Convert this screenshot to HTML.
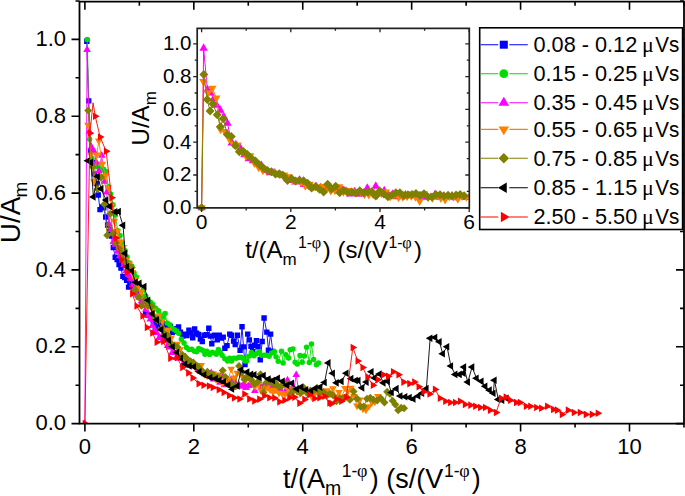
<!DOCTYPE html>
<html><head><meta charset="utf-8"><style>
html,body{margin:0;padding:0;background:#fff;width:685px;height:496px;overflow:hidden}
svg{display:block}
</style></head><body>
<svg width="685" height="496" viewBox="0 0 685 496">
<rect width="685" height="496" fill="#fff"/>
<path d="M84.90 423.6 v8 M84.90 1.7 v8 M139.36 423.6 v4 M139.36 1.7 v4 M193.82 423.6 v8 M193.82 1.7 v8 M248.28 423.6 v4 M248.28 1.7 v4 M302.74 423.6 v8 M302.74 1.7 v8 M357.20 423.6 v4 M357.20 1.7 v4 M411.66 423.6 v8 M411.66 1.7 v8 M466.12 423.6 v4 M466.12 1.7 v4 M520.58 423.6 v8 M520.58 1.7 v8 M575.04 423.6 v4 M575.04 1.7 v4 M629.50 423.6 v8 M629.50 1.7 v8 M683.96 423.6 v4 M683.96 1.7 v4 M79.5 423.60 h-8 M684.0 423.60 h-8 M79.5 385.18 h-4 M684.0 385.18 h-4 M79.5 346.76 h-8 M684.0 346.76 h-8 M79.5 308.34 h-4 M684.0 308.34 h-4 M79.5 269.92 h-8 M684.0 269.92 h-8 M79.5 231.50 h-4 M684.0 231.50 h-4 M79.5 193.08 h-8 M684.0 193.08 h-8 M79.5 154.66 h-4 M684.0 154.66 h-4 M79.5 116.24 h-8 M684.0 116.24 h-8 M79.5 77.82 h-4 M684.0 77.82 h-4 M79.5 39.40 h-8 M684.0 39.40 h-8 M79.5 0.98 h-4 M684.0 0.98 h-4" stroke="#000" stroke-width="1.6" fill="none"/>
<text x="66.00" y="430.30" font-size="22" font-family="&quot;Liberation Sans&quot;, sans-serif" text-anchor="end">0.0</text>
<text x="66.00" y="353.46" font-size="22" font-family="&quot;Liberation Sans&quot;, sans-serif" text-anchor="end">0.2</text>
<text x="66.00" y="276.62" font-size="22" font-family="&quot;Liberation Sans&quot;, sans-serif" text-anchor="end">0.4</text>
<text x="66.00" y="199.78" font-size="22" font-family="&quot;Liberation Sans&quot;, sans-serif" text-anchor="end">0.6</text>
<text x="66.00" y="122.94" font-size="22" font-family="&quot;Liberation Sans&quot;, sans-serif" text-anchor="end">0.8</text>
<text x="66.00" y="46.10" font-size="22" font-family="&quot;Liberation Sans&quot;, sans-serif" text-anchor="end">1.0</text>
<text x="84.90" y="454.20" font-size="22" font-family="&quot;Liberation Sans&quot;, sans-serif" text-anchor="middle">0</text>
<text x="193.82" y="454.20" font-size="22" font-family="&quot;Liberation Sans&quot;, sans-serif" text-anchor="middle">2</text>
<text x="302.74" y="454.20" font-size="22" font-family="&quot;Liberation Sans&quot;, sans-serif" text-anchor="middle">4</text>
<text x="411.66" y="454.20" font-size="22" font-family="&quot;Liberation Sans&quot;, sans-serif" text-anchor="middle">6</text>
<text x="520.58" y="454.20" font-size="22" font-family="&quot;Liberation Sans&quot;, sans-serif" text-anchor="middle">8</text>
<text x="629.50" y="454.20" font-size="22" font-family="&quot;Liberation Sans&quot;, sans-serif" text-anchor="middle">10</text>
<text x="283.00" y="487.50" font-size="27" font-family="&quot;Liberation Sans&quot;, sans-serif" >t/(A</text>
<text x="324.90" y="494.70" font-size="19.5" font-family="&quot;Liberation Sans&quot;, sans-serif" >m</text>
<text x="341.70" y="477.00" font-size="17.5" font-family="&quot;Liberation Sans&quot;, sans-serif" >1-</text>
<text x="357.0" y="477.0" font-size="18" font-family="&quot;Liberation Serif&quot;, serif">φ</text>
<text x="369.70" y="487.50" font-size="27" font-family="&quot;Liberation Sans&quot;, sans-serif" >) (s/(V</text>
<text x="444.10" y="476.80" font-size="17.5" font-family="&quot;Liberation Sans&quot;, sans-serif" >1-</text>
<text x="459.3" y="476.8" font-size="18" font-family="&quot;Liberation Serif&quot;, serif">φ</text>
<text x="471.70" y="487.50" font-size="27" font-family="&quot;Liberation Sans&quot;, sans-serif" >)</text>
<text transform="translate(19.6,243.2) rotate(-90)" font-size="28" font-family="&quot;Liberation Sans&quot;, sans-serif">U/A</text>
<text transform="translate(26.8,197.5) rotate(-90)" font-size="19" font-family="&quot;Liberation Sans&quot;, sans-serif">m</text>
<clipPath id="mc"><rect x="79.5" y="1.7" width="604.5" height="421.90000000000003"/></clipPath><g clip-path="url(#mc)"><path d="M86.81 41.32 L88.71 100.87 L90.62 150.82 L92.52 162.34 L94.43 173.87 L96.34 183.48 L98.24 195.00 L99.99 209.60 L101.89 206.95 L103.80 207.72 L105.70 217.02 L107.61 224.93 L109.52 231.46 L111.42 236.07 L113.33 247.60 L115.23 257.28 L117.14 259.47 L119.05 264.54 L120.95 268.08 L122.86 276.41 L124.76 277.49 L126.67 280.37 L128.58 287.17 L130.48 283.25 L132.39 286.25 L134.30 282.33 L136.20 291.74 L138.11 295.51 L140.01 294.51 L141.92 302.04 L143.83 304.23 L145.73 312.49 L147.64 315.03 L149.54 315.60 L151.45 318.21 L153.36 321.59 L155.26 326.97 L157.17 323.40 L159.07 325.09 L160.98 323.67 L162.89 325.78 L164.79 323.67 L166.70 327.74 L168.61 327.43 L170.51 326.47 L172.42 332.35 L174.70 331.39 L176.61 328.66 L178.52 326.86 L180.42 332.16 L182.76 336.04 L185.11 334.08 L187.01 335.46 L188.92 330.24 L190.82 332.62 L192.73 337.92 L194.64 328.97 L196.54 333.31 L198.45 334.54 L200.36 339.08 L202.26 341.46 L204.17 335.23 L206.48 334.58 L208.80 328.32 L210.29 336.08 L211.79 343.69 L214.51 335.23 L217.24 339.84 L219.24 335.23 L221.23 337.96 L223.23 337.16 L224.86 348.30 L227.04 345.61 L229.76 334.08 L231.40 335.23 L233.58 341.00 L235.21 344.45 L237.39 335.23 L240.11 350.22 L242.02 326.78 L243.51 346.88 L245.01 364.43 L247.74 334.08 L249.37 339.84 L251.00 346.34 L252.64 351.37 L254.54 345.22 L256.45 340.61 L258.08 346.76 L260.26 359.82 L262.17 341.57 L264.07 317.95 L266.80 332.16 L268.43 350.22 L270.61 334.08 L272.79 351.37" stroke="#0000ff" stroke-width="0.9" fill="none" stroke-linejoin="round"/><path d="M84.11 38.62h5.40v5.40h-5.40ZM86.01 98.17h5.40v5.40h-5.40ZM87.92 148.12h5.40v5.40h-5.40ZM89.82 159.64h5.40v5.40h-5.40ZM91.73 171.17h5.40v5.40h-5.40ZM93.64 180.78h5.40v5.40h-5.40ZM95.54 192.30h5.40v5.40h-5.40ZM97.29 206.90h5.40v5.40h-5.40ZM99.19 204.25h5.40v5.40h-5.40ZM101.10 205.02h5.40v5.40h-5.40ZM103.00 214.32h5.40v5.40h-5.40ZM104.91 222.23h5.40v5.40h-5.40ZM106.82 228.76h5.40v5.40h-5.40ZM108.72 233.37h5.40v5.40h-5.40ZM110.63 244.90h5.40v5.40h-5.40ZM112.53 254.58h5.40v5.40h-5.40ZM114.44 256.77h5.40v5.40h-5.40ZM116.35 261.84h5.40v5.40h-5.40ZM118.25 265.38h5.40v5.40h-5.40ZM120.16 273.71h5.40v5.40h-5.40ZM122.06 274.79h5.40v5.40h-5.40ZM123.97 277.67h5.40v5.40h-5.40ZM125.88 284.47h5.40v5.40h-5.40ZM127.78 280.55h5.40v5.40h-5.40ZM129.69 283.55h5.40v5.40h-5.40ZM131.60 279.63h5.40v5.40h-5.40ZM133.50 289.04h5.40v5.40h-5.40ZM135.41 292.81h5.40v5.40h-5.40ZM137.31 291.81h5.40v5.40h-5.40ZM139.22 299.34h5.40v5.40h-5.40ZM141.13 301.53h5.40v5.40h-5.40ZM143.03 309.79h5.40v5.40h-5.40ZM144.94 312.33h5.40v5.40h-5.40ZM146.84 312.90h5.40v5.40h-5.40ZM148.75 315.51h5.40v5.40h-5.40ZM150.66 318.89h5.40v5.40h-5.40ZM152.56 324.27h5.40v5.40h-5.40ZM154.47 320.70h5.40v5.40h-5.40ZM156.37 322.39h5.40v5.40h-5.40ZM158.28 320.97h5.40v5.40h-5.40ZM160.19 323.08h5.40v5.40h-5.40ZM162.09 320.97h5.40v5.40h-5.40ZM164.00 325.04h5.40v5.40h-5.40ZM165.91 324.73h5.40v5.40h-5.40ZM167.81 323.77h5.40v5.40h-5.40ZM169.72 329.65h5.40v5.40h-5.40ZM172.00 328.69h5.40v5.40h-5.40ZM173.91 325.96h5.40v5.40h-5.40ZM175.82 324.16h5.40v5.40h-5.40ZM177.72 329.46h5.40v5.40h-5.40ZM180.06 333.34h5.40v5.40h-5.40ZM182.41 331.38h5.40v5.40h-5.40ZM184.31 332.76h5.40v5.40h-5.40ZM186.22 327.54h5.40v5.40h-5.40ZM188.12 329.92h5.40v5.40h-5.40ZM190.03 335.22h5.40v5.40h-5.40ZM191.94 326.27h5.40v5.40h-5.40ZM193.84 330.61h5.40v5.40h-5.40ZM195.75 331.84h5.40v5.40h-5.40ZM197.66 336.38h5.40v5.40h-5.40ZM199.56 338.76h5.40v5.40h-5.40ZM201.47 332.53h5.40v5.40h-5.40ZM203.78 331.88h5.40v5.40h-5.40ZM206.10 325.62h5.40v5.40h-5.40ZM207.59 333.38h5.40v5.40h-5.40ZM209.09 340.99h5.40v5.40h-5.40ZM211.81 332.53h5.40v5.40h-5.40ZM214.54 337.14h5.40v5.40h-5.40ZM216.54 332.53h5.40v5.40h-5.40ZM218.53 335.26h5.40v5.40h-5.40ZM220.53 334.46h5.40v5.40h-5.40ZM222.16 345.60h5.40v5.40h-5.40ZM224.34 342.91h5.40v5.40h-5.40ZM227.06 331.38h5.40v5.40h-5.40ZM228.70 332.53h5.40v5.40h-5.40ZM230.88 338.30h5.40v5.40h-5.40ZM232.51 341.75h5.40v5.40h-5.40ZM234.69 332.53h5.40v5.40h-5.40ZM237.41 347.52h5.40v5.40h-5.40ZM239.32 324.08h5.40v5.40h-5.40ZM240.81 344.18h5.40v5.40h-5.40ZM242.31 361.73h5.40v5.40h-5.40ZM245.04 331.38h5.40v5.40h-5.40ZM246.67 337.14h5.40v5.40h-5.40ZM248.30 343.64h5.40v5.40h-5.40ZM249.94 348.67h5.40v5.40h-5.40ZM251.84 342.52h5.40v5.40h-5.40ZM253.75 337.91h5.40v5.40h-5.40ZM255.38 344.06h5.40v5.40h-5.40ZM257.56 357.12h5.40v5.40h-5.40ZM259.47 338.87h5.40v5.40h-5.40ZM261.37 315.25h5.40v5.40h-5.40ZM264.10 329.46h5.40v5.40h-5.40ZM265.73 347.52h5.40v5.40h-5.40ZM267.91 331.38h5.40v5.40h-5.40ZM270.09 348.67h5.40v5.40h-5.40Z" fill="#0000ff"/><path d="M87.24 39.40 L89.58 139.29 L91.93 158.50 L94.27 164.26 L96.61 166.19 L98.95 168.11 L101.29 170.03 L103.63 169.26 L105.98 171.60 L108.32 186.63 L110.66 194.08 L113.00 204.80 L115.34 215.02 L117.68 230.65 L120.03 235.61 L122.37 243.06 L124.71 250.52 L127.05 256.93 L129.39 262.70 L131.74 266.12 L134.08 273.07 L136.42 277.03 L138.76 285.75 L141.10 294.93 L143.44 289.63 L145.79 296.08 L148.13 300.50 L150.47 302.31 L152.81 304.46 L155.70 308.34 L158.42 310.76 L161.14 315.26 L163.14 318.10 L165.14 313.49 L167.13 322.94 L169.86 324.78 L172.58 328.70 L174.58 329.86 L176.57 330.89 L178.57 333.31 L181.29 339.15 L184.02 342.92 L186.47 347.61 L188.92 349.45 L191.64 349.33 L194.36 351.37 L196.54 351.64 L198.72 348.45 L200.90 349.45 L202.90 350.53 L204.89 354.33 L206.89 351.37 L209.61 354.41 L212.34 352.14 L214.34 352.98 L216.33 354.37 L218.33 349.45 L220.23 352.48 L222.14 355.21 L224.86 358.67 L227.59 360.98 L229.58 358.21 L231.58 360.94 L233.58 358.29 L236.30 358.17 L239.02 357.13 L241.02 357.25 L243.01 358.21 L245.01 360.98 L246.92 360.74 L248.82 356.37 L251.37 352.41 L253.91 355.83 L256.45 353.68 L258.99 351.79 L261.53 355.29 L264.07 355.21 L266.62 355.29 L269.15 356.17 L271.70 352.91 L274.42 351.75 L276.05 356.75 L278.23 361.36 L281.50 351.37 L283.13 362.90 L285.86 354.83 L288.58 357.90 L290.21 349.83 L292.94 349.07 L295.12 362.13 L297.29 364.05 L300.02 355.60 L302.20 362.13 L304.37 355.98 L306.55 347.14 L309.28 362.51 L311.45 344.07 L313.63 359.44 L316.36 364.82 L318.53 362.90" stroke="#00dd00" stroke-width="0.9" fill="none" stroke-linejoin="round"/><path d="M84.49 39.40a2.75 2.75 0 1 0 5.50 0a2.75 2.75 0 1 0 -5.50 0ZM86.83 139.29a2.75 2.75 0 1 0 5.50 0a2.75 2.75 0 1 0 -5.50 0ZM89.18 158.50a2.75 2.75 0 1 0 5.50 0a2.75 2.75 0 1 0 -5.50 0ZM91.52 164.26a2.75 2.75 0 1 0 5.50 0a2.75 2.75 0 1 0 -5.50 0ZM93.86 166.19a2.75 2.75 0 1 0 5.50 0a2.75 2.75 0 1 0 -5.50 0ZM96.20 168.11a2.75 2.75 0 1 0 5.50 0a2.75 2.75 0 1 0 -5.50 0ZM98.54 170.03a2.75 2.75 0 1 0 5.50 0a2.75 2.75 0 1 0 -5.50 0ZM100.88 169.26a2.75 2.75 0 1 0 5.50 0a2.75 2.75 0 1 0 -5.50 0ZM103.23 171.60a2.75 2.75 0 1 0 5.50 0a2.75 2.75 0 1 0 -5.50 0ZM105.57 186.63a2.75 2.75 0 1 0 5.50 0a2.75 2.75 0 1 0 -5.50 0ZM107.91 194.08a2.75 2.75 0 1 0 5.50 0a2.75 2.75 0 1 0 -5.50 0ZM110.25 204.80a2.75 2.75 0 1 0 5.50 0a2.75 2.75 0 1 0 -5.50 0ZM112.59 215.02a2.75 2.75 0 1 0 5.50 0a2.75 2.75 0 1 0 -5.50 0ZM114.93 230.65a2.75 2.75 0 1 0 5.50 0a2.75 2.75 0 1 0 -5.50 0ZM117.28 235.61a2.75 2.75 0 1 0 5.50 0a2.75 2.75 0 1 0 -5.50 0ZM119.62 243.06a2.75 2.75 0 1 0 5.50 0a2.75 2.75 0 1 0 -5.50 0ZM121.96 250.52a2.75 2.75 0 1 0 5.50 0a2.75 2.75 0 1 0 -5.50 0ZM124.30 256.93a2.75 2.75 0 1 0 5.50 0a2.75 2.75 0 1 0 -5.50 0ZM126.64 262.70a2.75 2.75 0 1 0 5.50 0a2.75 2.75 0 1 0 -5.50 0ZM128.99 266.12a2.75 2.75 0 1 0 5.50 0a2.75 2.75 0 1 0 -5.50 0ZM131.33 273.07a2.75 2.75 0 1 0 5.50 0a2.75 2.75 0 1 0 -5.50 0ZM133.67 277.03a2.75 2.75 0 1 0 5.50 0a2.75 2.75 0 1 0 -5.50 0ZM136.01 285.75a2.75 2.75 0 1 0 5.50 0a2.75 2.75 0 1 0 -5.50 0ZM138.35 294.93a2.75 2.75 0 1 0 5.50 0a2.75 2.75 0 1 0 -5.50 0ZM140.69 289.63a2.75 2.75 0 1 0 5.50 0a2.75 2.75 0 1 0 -5.50 0ZM143.04 296.08a2.75 2.75 0 1 0 5.50 0a2.75 2.75 0 1 0 -5.50 0ZM145.38 300.50a2.75 2.75 0 1 0 5.50 0a2.75 2.75 0 1 0 -5.50 0ZM147.72 302.31a2.75 2.75 0 1 0 5.50 0a2.75 2.75 0 1 0 -5.50 0ZM150.06 304.46a2.75 2.75 0 1 0 5.50 0a2.75 2.75 0 1 0 -5.50 0ZM152.95 308.34a2.75 2.75 0 1 0 5.50 0a2.75 2.75 0 1 0 -5.50 0ZM155.67 310.76a2.75 2.75 0 1 0 5.50 0a2.75 2.75 0 1 0 -5.50 0ZM158.39 315.26a2.75 2.75 0 1 0 5.50 0a2.75 2.75 0 1 0 -5.50 0ZM160.39 318.10a2.75 2.75 0 1 0 5.50 0a2.75 2.75 0 1 0 -5.50 0ZM162.39 313.49a2.75 2.75 0 1 0 5.50 0a2.75 2.75 0 1 0 -5.50 0ZM164.38 322.94a2.75 2.75 0 1 0 5.50 0a2.75 2.75 0 1 0 -5.50 0ZM167.11 324.78a2.75 2.75 0 1 0 5.50 0a2.75 2.75 0 1 0 -5.50 0ZM169.83 328.70a2.75 2.75 0 1 0 5.50 0a2.75 2.75 0 1 0 -5.50 0ZM171.83 329.86a2.75 2.75 0 1 0 5.50 0a2.75 2.75 0 1 0 -5.50 0ZM173.82 330.89a2.75 2.75 0 1 0 5.50 0a2.75 2.75 0 1 0 -5.50 0ZM175.82 333.31a2.75 2.75 0 1 0 5.50 0a2.75 2.75 0 1 0 -5.50 0ZM178.54 339.15a2.75 2.75 0 1 0 5.50 0a2.75 2.75 0 1 0 -5.50 0ZM181.27 342.92a2.75 2.75 0 1 0 5.50 0a2.75 2.75 0 1 0 -5.50 0ZM183.72 347.61a2.75 2.75 0 1 0 5.50 0a2.75 2.75 0 1 0 -5.50 0ZM186.17 349.45a2.75 2.75 0 1 0 5.50 0a2.75 2.75 0 1 0 -5.50 0ZM188.89 349.33a2.75 2.75 0 1 0 5.50 0a2.75 2.75 0 1 0 -5.50 0ZM191.61 351.37a2.75 2.75 0 1 0 5.50 0a2.75 2.75 0 1 0 -5.50 0ZM193.79 351.64a2.75 2.75 0 1 0 5.50 0a2.75 2.75 0 1 0 -5.50 0ZM195.97 348.45a2.75 2.75 0 1 0 5.50 0a2.75 2.75 0 1 0 -5.50 0ZM198.15 349.45a2.75 2.75 0 1 0 5.50 0a2.75 2.75 0 1 0 -5.50 0ZM200.15 350.53a2.75 2.75 0 1 0 5.50 0a2.75 2.75 0 1 0 -5.50 0ZM202.14 354.33a2.75 2.75 0 1 0 5.50 0a2.75 2.75 0 1 0 -5.50 0ZM204.14 351.37a2.75 2.75 0 1 0 5.50 0a2.75 2.75 0 1 0 -5.50 0ZM206.86 354.41a2.75 2.75 0 1 0 5.50 0a2.75 2.75 0 1 0 -5.50 0ZM209.59 352.14a2.75 2.75 0 1 0 5.50 0a2.75 2.75 0 1 0 -5.50 0ZM211.59 352.98a2.75 2.75 0 1 0 5.50 0a2.75 2.75 0 1 0 -5.50 0ZM213.58 354.37a2.75 2.75 0 1 0 5.50 0a2.75 2.75 0 1 0 -5.50 0ZM215.58 349.45a2.75 2.75 0 1 0 5.50 0a2.75 2.75 0 1 0 -5.50 0ZM217.48 352.48a2.75 2.75 0 1 0 5.50 0a2.75 2.75 0 1 0 -5.50 0ZM219.39 355.21a2.75 2.75 0 1 0 5.50 0a2.75 2.75 0 1 0 -5.50 0ZM222.11 358.67a2.75 2.75 0 1 0 5.50 0a2.75 2.75 0 1 0 -5.50 0ZM224.84 360.98a2.75 2.75 0 1 0 5.50 0a2.75 2.75 0 1 0 -5.50 0ZM226.83 358.21a2.75 2.75 0 1 0 5.50 0a2.75 2.75 0 1 0 -5.50 0ZM228.83 360.94a2.75 2.75 0 1 0 5.50 0a2.75 2.75 0 1 0 -5.50 0ZM230.83 358.29a2.75 2.75 0 1 0 5.50 0a2.75 2.75 0 1 0 -5.50 0ZM233.55 358.17a2.75 2.75 0 1 0 5.50 0a2.75 2.75 0 1 0 -5.50 0ZM236.27 357.13a2.75 2.75 0 1 0 5.50 0a2.75 2.75 0 1 0 -5.50 0ZM238.27 357.25a2.75 2.75 0 1 0 5.50 0a2.75 2.75 0 1 0 -5.50 0ZM240.26 358.21a2.75 2.75 0 1 0 5.50 0a2.75 2.75 0 1 0 -5.50 0ZM242.26 360.98a2.75 2.75 0 1 0 5.50 0a2.75 2.75 0 1 0 -5.50 0ZM244.17 360.74a2.75 2.75 0 1 0 5.50 0a2.75 2.75 0 1 0 -5.50 0ZM246.07 356.37a2.75 2.75 0 1 0 5.50 0a2.75 2.75 0 1 0 -5.50 0ZM248.62 352.41a2.75 2.75 0 1 0 5.50 0a2.75 2.75 0 1 0 -5.50 0ZM251.16 355.83a2.75 2.75 0 1 0 5.50 0a2.75 2.75 0 1 0 -5.50 0ZM253.70 353.68a2.75 2.75 0 1 0 5.50 0a2.75 2.75 0 1 0 -5.50 0ZM256.24 351.79a2.75 2.75 0 1 0 5.50 0a2.75 2.75 0 1 0 -5.50 0ZM258.78 355.29a2.75 2.75 0 1 0 5.50 0a2.75 2.75 0 1 0 -5.50 0ZM261.32 355.21a2.75 2.75 0 1 0 5.50 0a2.75 2.75 0 1 0 -5.50 0ZM263.87 355.29a2.75 2.75 0 1 0 5.50 0a2.75 2.75 0 1 0 -5.50 0ZM266.40 356.17a2.75 2.75 0 1 0 5.50 0a2.75 2.75 0 1 0 -5.50 0ZM268.95 352.91a2.75 2.75 0 1 0 5.50 0a2.75 2.75 0 1 0 -5.50 0ZM271.67 351.75a2.75 2.75 0 1 0 5.50 0a2.75 2.75 0 1 0 -5.50 0ZM273.30 356.75a2.75 2.75 0 1 0 5.50 0a2.75 2.75 0 1 0 -5.50 0ZM275.48 361.36a2.75 2.75 0 1 0 5.50 0a2.75 2.75 0 1 0 -5.50 0ZM278.75 351.37a2.75 2.75 0 1 0 5.50 0a2.75 2.75 0 1 0 -5.50 0ZM280.38 362.90a2.75 2.75 0 1 0 5.50 0a2.75 2.75 0 1 0 -5.50 0ZM283.11 354.83a2.75 2.75 0 1 0 5.50 0a2.75 2.75 0 1 0 -5.50 0ZM285.83 357.90a2.75 2.75 0 1 0 5.50 0a2.75 2.75 0 1 0 -5.50 0ZM287.46 349.83a2.75 2.75 0 1 0 5.50 0a2.75 2.75 0 1 0 -5.50 0ZM290.19 349.07a2.75 2.75 0 1 0 5.50 0a2.75 2.75 0 1 0 -5.50 0ZM292.37 362.13a2.75 2.75 0 1 0 5.50 0a2.75 2.75 0 1 0 -5.50 0ZM294.54 364.05a2.75 2.75 0 1 0 5.50 0a2.75 2.75 0 1 0 -5.50 0ZM297.27 355.60a2.75 2.75 0 1 0 5.50 0a2.75 2.75 0 1 0 -5.50 0ZM299.45 362.13a2.75 2.75 0 1 0 5.50 0a2.75 2.75 0 1 0 -5.50 0ZM301.62 355.98a2.75 2.75 0 1 0 5.50 0a2.75 2.75 0 1 0 -5.50 0ZM303.80 347.14a2.75 2.75 0 1 0 5.50 0a2.75 2.75 0 1 0 -5.50 0ZM306.53 362.51a2.75 2.75 0 1 0 5.50 0a2.75 2.75 0 1 0 -5.50 0ZM308.70 344.07a2.75 2.75 0 1 0 5.50 0a2.75 2.75 0 1 0 -5.50 0ZM310.88 359.44a2.75 2.75 0 1 0 5.50 0a2.75 2.75 0 1 0 -5.50 0ZM313.61 364.82a2.75 2.75 0 1 0 5.50 0a2.75 2.75 0 1 0 -5.50 0ZM315.78 362.90a2.75 2.75 0 1 0 5.50 0a2.75 2.75 0 1 0 -5.50 0Z" fill="#00dd00"/><path d="M84.90 423.60 L87.08 49.77 L89.26 131.61 L91.44 146.98 L93.99 151.20 L96.34 162.34 L98.79 171.18 L101.78 155.43 L104.51 181.55 L106.68 192.31 L108.86 224.01 L111.04 229.77 L113.22 241.99 L115.40 244.52 L117.58 251.44 L119.75 255.97 L121.93 256.32 L124.11 264.73 L126.29 270.69 L128.47 274.80 L130.65 278.49 L132.82 284.75 L135.00 287.59 L137.18 294.62 L139.36 297.51 L141.54 300.96 L143.72 306.00 L145.90 309.65 L148.07 315.49 L150.25 319.25 L152.43 325.51 L154.61 330.01 L156.79 332.70 L158.97 337.88 L161.14 337.65 L163.32 339.19 L165.50 340.38 L167.68 345.76 L169.86 347.30 L172.04 352.79 L174.21 352.29 L176.39 357.82 L178.57 358.55 L180.75 355.90 L182.93 364.43 L185.11 359.94 L187.28 362.13 L189.46 364.66 L191.64 364.43 L193.82 365.59 L196.00 365.89 L198.18 369.62 L200.36 371.43 L202.53 372.35 L204.71 374.00 L206.89 373.12 L209.07 375.46 L211.25 372.85 L213.43 379.38 L215.60 378.84 L217.78 379.49 L219.96 382.61 L222.14 375.84 L224.32 385.03 L226.50 381.88 L228.67 383.26 L230.85 379.99 L233.03 387.75 L235.21 382.49 L237.39 386.60 L239.57 385.49 L241.74 386.49 L243.92 384.10 L246.10 387.68 L248.28 385.83 L250.46 385.22 L252.64 382.53 L254.82 390.87 L256.99 383.53 L259.17 384.80 L261.35 387.75 L263.53 386.41 L265.71 388.10 L267.89 384.22 L270.06 387.18 L272.24 388.18 L274.42 388.41 L276.60 388.52 L278.78 388.68 L280.96 390.21 L283.13 384.80 L285.31 392.60 L287.49 380.19 L289.67 389.25 L291.85 389.29 L294.03 388.29 L296.20 374.81 L298.38 389.29" stroke="#ff00ff" stroke-width="0.9" fill="none" stroke-linejoin="round"/><path d="M84.90 419.19L88.70 425.80L81.10 425.80ZM87.08 45.37L90.88 51.98L83.28 51.98ZM89.26 127.20L93.06 133.81L85.46 133.81ZM91.44 142.57L95.24 149.18L87.64 149.18ZM93.99 146.79L97.79 153.41L90.19 153.41ZM96.34 157.94L100.14 164.55L92.54 164.55ZM98.79 166.77L102.59 173.38L94.99 173.38ZM101.78 151.02L105.58 157.63L97.98 157.63ZM104.51 177.15L108.31 183.76L100.71 183.76ZM106.68 187.90L110.48 194.52L102.88 194.52ZM108.86 219.60L112.66 226.21L105.06 226.21ZM111.04 225.36L114.84 231.98L107.24 231.98ZM113.22 237.58L117.02 244.19L109.42 244.19ZM115.40 240.12L119.20 246.73L111.60 246.73ZM117.58 247.03L121.38 253.64L113.78 253.64ZM119.75 251.57L123.55 258.18L115.95 258.18ZM121.93 251.91L125.73 258.52L118.13 258.52ZM124.11 260.33L127.91 266.94L120.31 266.94ZM126.29 266.28L130.09 272.89L122.49 272.89ZM128.47 270.39L132.27 277.00L124.67 277.00ZM130.65 274.08L134.45 280.69L126.85 280.69ZM132.82 280.34L136.62 286.95L129.02 286.95ZM135.00 283.19L138.80 289.80L131.20 289.80ZM137.18 290.22L140.98 296.83L133.38 296.83ZM139.36 293.10L143.16 299.71L135.56 299.71ZM141.54 296.56L145.34 303.17L137.74 303.17ZM143.72 301.59L147.52 308.20L139.92 308.20ZM145.90 305.24L149.70 311.85L142.10 311.85ZM148.07 311.08L151.87 317.69L144.27 317.69ZM150.25 314.84L154.05 321.46L146.45 321.46ZM152.43 321.11L156.23 327.72L148.63 327.72ZM154.61 325.60L158.41 332.21L150.81 332.21ZM156.79 328.29L160.59 334.90L152.99 334.90ZM158.97 333.48L162.77 340.09L155.17 340.09ZM161.14 333.25L164.94 339.86L157.34 339.86ZM163.32 334.78L167.12 341.40L159.52 341.40ZM165.50 335.97L169.30 342.59L161.70 342.59ZM167.68 341.35L171.48 347.97L163.88 347.97ZM169.86 342.89L173.66 349.50L166.06 349.50ZM172.04 348.38L175.84 355.00L168.24 355.00ZM174.21 347.88L178.01 354.50L170.41 354.50ZM176.39 353.42L180.19 360.03L172.59 360.03ZM178.57 354.15L182.37 360.76L174.77 360.76ZM180.75 351.50L184.55 358.11L176.95 358.11ZM182.93 360.03L186.73 366.64L179.13 366.64ZM185.11 355.53L188.91 362.14L181.31 362.14ZM187.28 357.72L191.08 364.33L183.48 364.33ZM189.46 360.26L193.26 366.87L185.66 366.87ZM191.64 360.03L195.44 366.64L187.84 366.64ZM193.82 361.18L197.62 367.79L190.02 367.79ZM196.00 361.49L199.80 368.10L192.20 368.10ZM198.18 365.21L201.98 371.82L194.38 371.82ZM200.36 367.02L204.16 373.63L196.56 373.63ZM202.53 367.94L206.33 374.55L198.73 374.55ZM204.71 369.59L208.51 376.20L200.91 376.20ZM206.89 368.71L210.69 375.32L203.09 375.32ZM209.07 371.05L212.87 377.66L205.27 377.66ZM211.25 368.44L215.05 375.05L207.45 375.05ZM213.43 374.97L217.23 381.58L209.63 381.58ZM215.60 374.43L219.40 381.04L211.80 381.04ZM217.78 375.09L221.58 381.70L213.98 381.70ZM219.96 378.20L223.76 384.81L216.16 384.81ZM222.14 371.44L225.94 378.05L218.34 378.05ZM224.32 380.62L228.12 387.23L220.52 387.23ZM226.50 377.47L230.30 384.08L222.70 384.08ZM228.67 378.85L232.47 385.46L224.87 385.46ZM230.85 375.59L234.65 382.20L227.05 382.20ZM233.03 383.35L236.83 389.96L229.23 389.96ZM235.21 378.08L239.01 384.69L231.41 384.69ZM237.39 382.19L241.19 388.81L233.59 388.81ZM239.57 381.08L243.37 387.69L235.77 387.69ZM241.74 382.08L245.54 388.69L237.94 388.69ZM243.92 379.70L247.72 386.31L240.12 386.31ZM246.10 383.27L249.90 389.88L242.30 389.88ZM248.28 381.43L252.08 388.04L244.48 388.04ZM250.46 380.81L254.26 387.42L246.66 387.42ZM252.64 378.12L256.44 384.73L248.84 384.73ZM254.82 386.46L258.62 393.07L251.02 393.07ZM256.99 379.12L260.79 385.73L253.19 385.73ZM259.17 380.39L262.97 387.00L255.37 387.00ZM261.35 383.35L265.15 389.96L257.55 389.96ZM263.53 382.00L267.33 388.61L259.73 388.61ZM265.71 383.69L269.51 390.30L261.91 390.30ZM267.89 379.81L271.69 386.42L264.09 386.42ZM270.06 382.77L273.86 389.38L266.26 389.38ZM272.24 383.77L276.04 390.38L268.44 390.38ZM274.42 384.00L278.22 390.61L270.62 390.61ZM276.60 384.11L280.40 390.73L272.80 390.73ZM278.78 384.27L282.58 390.88L274.98 390.88ZM280.96 385.81L284.76 392.42L277.16 392.42ZM283.13 380.39L286.93 387.00L279.33 387.00ZM285.31 388.19L289.11 394.80L281.51 394.80ZM287.49 375.78L291.29 382.39L283.69 382.39ZM289.67 384.84L293.47 391.46L285.87 391.46ZM291.85 384.88L295.65 391.49L288.05 391.49ZM294.03 383.88L297.83 390.50L290.23 390.50ZM296.20 370.40L300.00 377.01L292.40 377.01ZM298.38 384.88L302.18 391.49L294.58 391.49Z" fill="#ff00ff"/><path d="M87.90 125.08 L90.89 154.66 L93.99 181.55 L96.88 154.66 L98.79 140.83 L102.33 163.88 L105.32 176.14 L108.32 187.36 L111.31 205.57 L114.31 221.05 L117.30 231.50 L120.30 241.64 L123.29 247.10 L126.29 260.01 L129.28 263.77 L132.28 272.19 L135.28 279.37 L138.27 285.40 L141.27 292.01 L144.26 299.12 L147.26 306.57 L150.25 306.00 L153.25 310.72 L156.24 318.41 L159.24 315.33 L162.23 321.25 L165.23 330.28 L168.22 329.82 L171.22 337.77 L174.21 346.26 L177.21 343.99 L180.21 349.45 L183.20 356.06 L186.20 359.59 L189.19 362.63 L192.19 363.78 L195.18 367.28 L198.18 367.93 L201.17 365.20 L204.17 374.31 L207.16 375.81 L210.16 375.65 L213.15 373.42 L216.15 379.53 L219.14 374.65 L222.14 382.87 L225.13 382.95 L228.13 379.72 L231.13 369.04 L234.12 377.61 L237.12 372.92 L240.11 373.69 L243.11 377.23 L246.10 379.42 L249.10 377.38 L252.09 382.22 L255.09 386.22 L258.08 384.33 L261.08 390.60 L264.07 388.29 L267.07 387.52 L270.06 389.87 L273.06 391.98 L276.05 390.06 L279.05 393.02 L282.05 393.44 L285.04 394.71 L288.04 388.60 L291.03 393.75 L294.03 389.33 L297.02 391.56 L300.02 393.44 L303.01 391.10 L306.01 392.36 L309.00 392.94 L312.00 397.21 L314.99 393.56 L317.99 391.52 L320.98 392.83 L323.98 391.67 L326.97 390.56 L329.97 393.67 L332.97 388.37 L335.96 396.67 L338.96 392.13 L341.95 397.17 L344.95 388.10 L347.94 391.17 L350.94 387.98 L353.93 396.13 L356.93 405.73 L359.92 399.82 L362.92 408.96 L365.91 409.88 L368.91 406.39 L371.90 402.51 L374.90 401.82 L377.89 396.24" stroke="#ff8000" stroke-width="0.9" fill="none" stroke-linejoin="round"/><path d="M87.90 129.48L91.70 122.87L84.10 122.87ZM90.89 159.07L94.69 152.46L87.09 152.46ZM93.99 185.96L97.79 179.35L90.19 179.35ZM96.88 159.07L100.68 152.46L93.08 152.46ZM98.79 145.24L102.59 138.62L94.99 138.62ZM102.33 168.29L106.13 161.68L98.53 161.68ZM105.32 180.54L109.12 173.93L101.52 173.93ZM108.32 191.76L112.12 185.15L104.52 185.15ZM111.31 209.97L115.11 203.36L107.51 203.36ZM114.31 225.46L118.11 218.85L110.51 218.85ZM117.30 235.91L121.10 229.30L113.50 229.30ZM120.30 246.05L124.10 239.44L116.50 239.44ZM123.29 251.51L127.09 244.89L119.49 244.89ZM126.29 264.42L130.09 257.80L122.49 257.80ZM129.28 268.18L133.08 261.57L125.48 261.57ZM132.28 276.59L136.08 269.98L128.48 269.98ZM135.28 283.78L139.08 277.17L131.48 277.17ZM138.27 289.81L142.07 283.20L134.47 283.20ZM141.27 296.42L145.07 289.81L137.47 289.81ZM144.26 303.53L148.06 296.92L140.46 296.92ZM147.26 310.98L151.06 304.37L143.46 304.37ZM150.25 310.40L154.05 303.79L146.45 303.79ZM153.25 315.13L157.05 308.52L149.45 308.52ZM156.24 322.81L160.04 316.20L152.44 316.20ZM159.24 319.74L163.04 313.13L155.44 313.13ZM162.23 325.66L166.03 319.05L158.43 319.05ZM165.23 334.69L169.03 328.07L161.43 328.07ZM168.22 334.22L172.02 327.61L164.42 327.61ZM171.22 342.18L175.02 335.57L167.42 335.57ZM174.21 350.67L178.01 344.06L170.41 344.06ZM177.21 348.40L181.01 341.79L173.41 341.79ZM180.21 353.86L184.01 347.25L176.41 347.25ZM183.20 360.47L187.00 353.85L179.40 353.85ZM186.20 364.00L190.00 357.39L182.40 357.39ZM189.19 367.04L192.99 360.42L185.39 360.42ZM192.19 368.19L195.99 361.58L188.39 361.58ZM195.18 371.68L198.98 365.07L191.38 365.07ZM198.18 372.34L201.98 365.73L194.38 365.73ZM201.17 369.61L204.97 363.00L197.37 363.00ZM204.17 378.72L207.97 372.10L200.37 372.10ZM207.16 380.21L210.96 373.60L203.36 373.60ZM210.16 380.06L213.96 373.45L206.36 373.45ZM213.15 377.83L216.95 371.22L209.35 371.22ZM216.15 383.94L219.95 377.33L212.35 377.33ZM219.14 379.06L222.94 372.45L215.34 372.45ZM222.14 387.28L225.94 380.67L218.34 380.67ZM225.13 387.36L228.93 380.75L221.33 380.75ZM228.13 384.13L231.93 377.52L224.33 377.52ZM231.13 373.45L234.93 366.84L227.33 366.84ZM234.12 382.02L237.92 375.41L230.32 375.41ZM237.12 377.33L240.92 370.72L233.32 370.72ZM240.11 378.10L243.91 371.49L236.31 371.49ZM243.11 381.64L246.91 375.02L239.31 375.02ZM246.10 383.83L249.90 377.21L242.30 377.21ZM249.10 381.79L252.90 375.18L245.30 375.18ZM252.09 386.63L255.89 380.02L248.29 380.02ZM255.09 390.63L258.89 384.01L251.29 384.01ZM258.08 388.74L261.88 382.13L254.28 382.13ZM261.08 395.01L264.88 388.39L257.28 388.39ZM264.07 392.70L267.87 386.09L260.27 386.09ZM267.07 391.93L270.87 385.32L263.27 385.32ZM270.06 394.28L273.86 387.66L266.26 387.66ZM273.06 396.39L276.86 389.78L269.26 389.78ZM276.05 394.47L279.85 387.86L272.25 387.86ZM279.05 397.43L282.85 390.81L275.25 390.81ZM282.05 397.85L285.85 391.24L278.25 391.24ZM285.04 399.12L288.84 392.50L281.24 392.50ZM288.04 393.01L291.84 386.40L284.24 386.40ZM291.03 398.16L294.83 391.54L287.23 391.54ZM294.03 393.74L297.83 387.13L290.23 387.13ZM297.02 395.97L300.82 389.35L293.22 389.35ZM300.02 397.85L303.82 391.24L296.22 391.24ZM303.01 395.50L306.81 388.89L299.21 388.89ZM306.01 396.77L309.81 390.16L302.21 390.16ZM309.00 397.35L312.80 390.74L305.20 390.74ZM312.00 401.61L315.80 395.00L308.20 395.00ZM314.99 397.96L318.79 391.35L311.19 391.35ZM317.99 395.93L321.79 389.32L314.19 389.32ZM320.98 397.23L324.78 390.62L317.18 390.62ZM323.98 396.08L327.78 389.47L320.18 389.47ZM326.97 394.97L330.77 388.35L323.17 388.35ZM329.97 398.08L333.77 391.47L326.17 391.47ZM332.97 392.78L336.77 386.16L329.17 386.16ZM335.96 401.08L339.76 394.46L332.16 394.46ZM338.96 396.54L342.76 389.93L335.16 389.93ZM341.95 401.58L345.75 394.96L338.15 394.96ZM344.95 392.51L348.75 385.90L341.15 385.90ZM347.94 395.58L351.74 388.97L344.14 388.97ZM350.94 392.39L354.74 385.78L347.14 385.78ZM353.93 400.54L357.73 393.93L350.13 393.93ZM356.93 410.14L360.73 403.53L353.13 403.53ZM359.92 404.23L363.72 397.61L356.12 397.61ZM362.92 413.37L366.72 406.76L359.12 406.76ZM365.91 414.29L369.71 407.68L362.11 407.68ZM368.91 410.80L372.71 404.18L365.11 404.18ZM371.90 406.92L375.70 400.30L368.10 400.30ZM374.90 406.22L378.70 399.61L371.10 399.61ZM377.89 400.65L381.69 394.04L374.09 394.04Z" fill="#ff8000"/><path d="M88.17 110.48 L92.80 166.95 L97.59 189.24 L101.24 177.33 L104.29 204.22 L107.23 235.34 L110.28 213.83 L113.22 233.42 L116.21 243.03 L119.21 248.40 L121.93 253.78 L125.20 261.58 L128.47 266.08 L131.74 267.46 L135.00 290.05 L138.27 296.97 L141.54 305.84 L144.81 300.04 L148.07 305.65 L151.34 306.61 L154.61 317.37 L157.88 320.71 L161.14 328.32 L164.41 333.70 L167.68 335.46 L170.95 343.49 L174.21 345.42 L177.48 346.99 L182.38 354.83 L185.11 356.86 L187.83 359.82 L190.55 361.28 L193.28 362.51 L197.63 366.35 L200.36 369.20 L203.08 371.73 L207.44 371.73 L210.16 374.88 L212.88 374.42 L217.78 377.11 L222.68 370.58 L225.41 377.11 L229.76 383.64 L232.49 384.22 L235.21 385.95 L239.02 365.97 L241.74 372.73 L244.47 379.42 L247.74 376.04 L251.00 379.42 L254.27 383.95 L257.54 382.11 L260.53 374.35 L263.53 392.44 L266.52 382.49 L269.52 380.07 L272.51 383.72 L275.51 383.26 L278.62 386.76 L281.73 385.64 L284.84 384.33 L287.96 383.72 L291.07 393.63 L294.18 389.21 L297.29 390.94 L300.56 393.02 L303.83 387.68 L307.10 392.63 L310.36 390.56 L313.63 390.94 L316.90 388.10 L320.17 393.09 L323.43 391.94 L326.70 395.75 L329.97 393.63 L333.24 395.40 L336.51 401.28 L339.77 398.47 L343.04 398.01 L346.31 396.71 L349.94 399.82 L353.57 391.40 L357.20 398.63 L360.47 406.46 L363.74 406.46 L367.00 398.86 L370.27 397.86 L373.54 399.78 L377.17 400.47 L380.80 398.17 L384.43 402.47 L387.15 391.63 L389.88 393.63 L392.60 400.82 L395.32 404.39 L398.22 410.23 L401.13 407.77 L404.04 408.23" stroke="#808000" stroke-width="0.9" fill="none" stroke-linejoin="round"/><path d="M88.17 106.48L92.17 110.48L88.17 114.48L84.17 110.48ZM92.80 162.95L96.80 166.95L92.80 170.95L88.80 166.95ZM97.59 185.24L101.59 189.24L97.59 193.24L93.59 189.24ZM101.24 173.33L105.24 177.33L101.24 181.33L97.24 177.33ZM104.29 200.22L108.29 204.22L104.29 208.22L100.29 204.22ZM107.23 231.34L111.23 235.34L107.23 239.34L103.23 235.34ZM110.28 209.83L114.28 213.83L110.28 217.83L106.28 213.83ZM113.22 229.42L117.22 233.42L113.22 237.42L109.22 233.42ZM116.21 239.03L120.21 243.03L116.21 247.03L112.21 243.03ZM119.21 244.40L123.21 248.40L119.21 252.40L115.21 248.40ZM121.93 249.78L125.93 253.78L121.93 257.78L117.93 253.78ZM125.20 257.58L129.20 261.58L125.20 265.58L121.20 261.58ZM128.47 262.08L132.47 266.08L128.47 270.08L124.47 266.08ZM131.74 263.46L135.74 267.46L131.74 271.46L127.74 267.46ZM135.00 286.05L139.00 290.05L135.00 294.05L131.00 290.05ZM138.27 292.97L142.27 296.97L138.27 300.97L134.27 296.97ZM141.54 301.84L145.54 305.84L141.54 309.84L137.54 305.84ZM144.81 296.04L148.81 300.04L144.81 304.04L140.81 300.04ZM148.07 301.65L152.07 305.65L148.07 309.65L144.07 305.65ZM151.34 302.61L155.34 306.61L151.34 310.61L147.34 306.61ZM154.61 313.37L158.61 317.37L154.61 321.37L150.61 317.37ZM157.88 316.71L161.88 320.71L157.88 324.71L153.88 320.71ZM161.14 324.32L165.14 328.32L161.14 332.32L157.14 328.32ZM164.41 329.70L168.41 333.70L164.41 337.70L160.41 333.70ZM167.68 331.46L171.68 335.46L167.68 339.46L163.68 335.46ZM170.95 339.49L174.95 343.49L170.95 347.49L166.95 343.49ZM174.21 341.42L178.21 345.42L174.21 349.42L170.21 345.42ZM177.48 342.99L181.48 346.99L177.48 350.99L173.48 346.99ZM182.38 350.83L186.38 354.83L182.38 358.83L178.38 354.83ZM185.11 352.86L189.11 356.86L185.11 360.86L181.11 356.86ZM187.83 355.82L191.83 359.82L187.83 363.82L183.83 359.82ZM190.55 357.28L194.55 361.28L190.55 365.28L186.55 361.28ZM193.28 358.51L197.28 362.51L193.28 366.51L189.28 362.51ZM197.63 362.35L201.63 366.35L197.63 370.35L193.63 366.35ZM200.36 365.20L204.36 369.20L200.36 373.20L196.36 369.20ZM203.08 367.73L207.08 371.73L203.08 375.73L199.08 371.73ZM207.44 367.73L211.44 371.73L207.44 375.73L203.44 371.73ZM210.16 370.88L214.16 374.88L210.16 378.88L206.16 374.88ZM212.88 370.42L216.88 374.42L212.88 378.42L208.88 374.42ZM217.78 373.11L221.78 377.11L217.78 381.11L213.78 377.11ZM222.68 366.58L226.68 370.58L222.68 374.58L218.68 370.58ZM225.41 373.11L229.41 377.11L225.41 381.11L221.41 377.11ZM229.76 379.64L233.76 383.64L229.76 387.64L225.76 383.64ZM232.49 380.22L236.49 384.22L232.49 388.22L228.49 384.22ZM235.21 381.95L239.21 385.95L235.21 389.95L231.21 385.95ZM239.02 361.97L243.02 365.97L239.02 369.97L235.02 365.97ZM241.74 368.73L245.74 372.73L241.74 376.73L237.74 372.73ZM244.47 375.42L248.47 379.42L244.47 383.42L240.47 379.42ZM247.74 372.04L251.74 376.04L247.74 380.04L243.74 376.04ZM251.00 375.42L255.00 379.42L251.00 383.42L247.00 379.42ZM254.27 379.95L258.27 383.95L254.27 387.95L250.27 383.95ZM257.54 378.11L261.54 382.11L257.54 386.11L253.54 382.11ZM260.53 370.35L264.53 374.35L260.53 378.35L256.53 374.35ZM263.53 388.44L267.53 392.44L263.53 396.44L259.53 392.44ZM266.52 378.49L270.52 382.49L266.52 386.49L262.52 382.49ZM269.52 376.07L273.52 380.07L269.52 384.07L265.52 380.07ZM272.51 379.72L276.51 383.72L272.51 387.72L268.51 383.72ZM275.51 379.26L279.51 383.26L275.51 387.26L271.51 383.26ZM278.62 382.76L282.62 386.76L278.62 390.76L274.62 386.76ZM281.73 381.64L285.73 385.64L281.73 389.64L277.73 385.64ZM284.84 380.33L288.84 384.33L284.84 388.33L280.84 384.33ZM287.96 379.72L291.96 383.72L287.96 387.72L283.96 383.72ZM291.07 389.63L295.07 393.63L291.07 397.63L287.07 393.63ZM294.18 385.21L298.18 389.21L294.18 393.21L290.18 389.21ZM297.29 386.94L301.29 390.94L297.29 394.94L293.29 390.94ZM300.56 389.02L304.56 393.02L300.56 397.02L296.56 393.02ZM303.83 383.68L307.83 387.68L303.83 391.68L299.83 387.68ZM307.10 388.63L311.10 392.63L307.10 396.63L303.10 392.63ZM310.36 386.56L314.36 390.56L310.36 394.56L306.36 390.56ZM313.63 386.94L317.63 390.94L313.63 394.94L309.63 390.94ZM316.90 384.10L320.90 388.10L316.90 392.10L312.90 388.10ZM320.17 389.09L324.17 393.09L320.17 397.09L316.17 393.09ZM323.43 387.94L327.43 391.94L323.43 395.94L319.43 391.94ZM326.70 391.75L330.70 395.75L326.70 399.75L322.70 395.75ZM329.97 389.63L333.97 393.63L329.97 397.63L325.97 393.63ZM333.24 391.40L337.24 395.40L333.24 399.40L329.24 395.40ZM336.51 397.28L340.51 401.28L336.51 405.28L332.51 401.28ZM339.77 394.47L343.77 398.47L339.77 402.47L335.77 398.47ZM343.04 394.01L347.04 398.01L343.04 402.01L339.04 398.01ZM346.31 392.71L350.31 396.71L346.31 400.71L342.31 396.71ZM349.94 395.82L353.94 399.82L349.94 403.82L345.94 399.82ZM353.57 387.40L357.57 391.40L353.57 395.40L349.57 391.40ZM357.20 394.63L361.20 398.63L357.20 402.63L353.20 398.63ZM360.47 402.46L364.47 406.46L360.47 410.46L356.47 406.46ZM363.74 402.46L367.74 406.46L363.74 410.46L359.74 406.46ZM367.00 394.86L371.00 398.86L367.00 402.86L363.00 398.86ZM370.27 393.86L374.27 397.86L370.27 401.86L366.27 397.86ZM373.54 395.78L377.54 399.78L373.54 403.78L369.54 399.78ZM377.17 396.47L381.17 400.47L377.17 404.47L373.17 400.47ZM380.80 394.17L384.80 398.17L380.80 402.17L376.80 398.17ZM384.43 398.47L388.43 402.47L384.43 406.47L380.43 402.47ZM387.15 387.63L391.15 391.63L387.15 395.63L383.15 391.63ZM389.88 389.63L393.88 393.63L389.88 397.63L385.88 393.63ZM392.60 396.82L396.60 400.82L392.60 404.82L388.60 400.82ZM395.32 400.39L399.32 404.39L395.32 408.39L391.32 404.39ZM398.22 406.23L402.22 410.23L398.22 414.23L394.22 410.23ZM401.13 403.77L405.13 407.77L401.13 411.77L397.13 407.77ZM404.04 404.23L408.04 408.23L404.04 412.23L400.04 408.23Z" fill="#808000"/><path d="M87.90 160.81 L90.89 162.34 L93.40 196.92 L97.59 176.56 L101.24 188.85 L106.14 200.00 L109.68 206.53 L115.07 211.91 L118.67 211.52 L123.02 225.35 L125.20 253.40 L126.83 266.85 L131.74 271.07 L135.55 282.21 L139.36 283.37 L144.26 286.44 L148.07 300.27 L152.43 313.72 L156.79 319.87 L161.14 329.86 L164.41 336.00 L168.77 340.23 L172.58 346.76 L176.94 352.52 L180.75 358.29 L185.11 364.05 L189.46 365.97 L193.82 366.74 L199.27 371.73 L204.17 374.81 L210.16 377.50 L215.60 378.65 L219.42 380.19 L223.77 381.72 L228.13 385.18 L231.94 389.02 L237.39 385.95 L241.20 369.81 L247.19 372.12 L251.00 374.42 L254.27 374.81 L259.17 377.50 L263.53 375.58 L268.43 379.03 L272.79 380.57 L277.69 378.26 L282.59 381.34 L286.95 385.18 L291.85 383.26 L296.75 389.02 L301.11 387.10 L306.01 389.79 L310.91 390.94 L315.27 388.25 L320.17 387.10 L324.52 382.49 L328.34 362.90 L332.69 373.27 L336.51 382.87 L341.41 381.34 L346.31 373.27 L351.21 378.65 L355.57 380.57 L358.29 380.57 L362.10 387.87 L366.46 382.11 L371.36 371.73 L374.63 377.88 L379.53 374.04 L383.34 382.87 L387.70 381.34 L391.51 392.48 L396.41 388.64 L400.22 395.94 L405.12 396.71 L409.48 397.47 L413.29 399.01 L418.20 395.94 L422.01 393.25 L426.36 388.64 L430.18 338.31 L435.08 337.54 L439.43 341.77 L442.70 353.68 L447.06 346.76 L450.87 365.97 L455.23 374.42 L459.58 374.42 L463.40 373.27 L463.94 367.12 L467.75 382.11 L472.11 367.12 L476.47 378.26 L481.37 381.34 L485.18 386.33 L489.54 390.17 L493.35 393.25 L494.44 380.19 L498.25 399.40 L502.06 400.16 L506.42 398.24" stroke="#000000" stroke-width="0.9" fill="none" stroke-linejoin="round"/><path d="M83.49 160.81L90.10 157.01L90.10 164.61ZM86.48 162.34L93.09 158.54L93.09 166.14ZM88.99 196.92L95.60 193.12L95.60 200.72ZM93.18 176.56L99.79 172.76L99.79 180.36ZM96.83 188.85L103.44 185.05L103.44 192.65ZM101.73 200.00L108.34 196.20L108.34 203.80ZM105.27 206.53L111.88 202.73L111.88 210.33ZM110.66 211.91L117.27 208.11L117.27 215.71ZM114.26 211.52L120.87 207.72L120.87 215.32ZM118.61 225.35L125.23 221.55L125.23 229.15ZM120.79 253.40L127.40 249.60L127.40 257.20ZM122.43 266.85L129.04 263.05L129.04 270.65ZM127.33 271.07L133.94 267.27L133.94 274.87ZM131.14 282.21L137.75 278.41L137.75 286.01ZM134.95 283.37L141.56 279.57L141.56 287.17ZM139.85 286.44L146.47 282.64L146.47 290.24ZM143.67 300.27L150.28 296.47L150.28 304.07ZM148.02 313.72L154.63 309.92L154.63 317.52ZM152.38 319.87L158.99 316.07L158.99 323.67ZM156.74 329.86L163.35 326.06L163.35 333.66ZM160.00 336.00L166.62 332.20L166.62 339.80ZM164.36 340.23L170.97 336.43L170.97 344.03ZM168.17 346.76L174.78 342.96L174.78 350.56ZM172.53 352.52L179.14 348.72L179.14 356.32ZM176.34 358.29L182.95 354.49L182.95 362.09ZM180.70 364.05L187.31 360.25L187.31 367.85ZM185.06 365.97L191.67 362.17L191.67 369.77ZM189.41 366.74L196.02 362.94L196.02 370.54ZM194.86 371.73L201.47 367.93L201.47 375.53ZM199.76 374.81L206.37 371.01L206.37 378.61ZM205.75 377.50L212.36 373.70L212.36 381.30ZM211.20 378.65L217.81 374.85L217.81 382.45ZM215.01 380.19L221.62 376.39L221.62 383.99ZM219.37 381.72L225.98 377.92L225.98 385.52ZM223.72 385.18L230.33 381.38L230.33 388.98ZM227.53 389.02L234.15 385.22L234.15 392.82ZM232.98 385.95L239.59 382.15L239.59 389.75ZM236.79 369.81L243.40 366.01L243.40 373.61ZM242.78 372.12L249.39 368.32L249.39 375.92ZM246.59 374.42L253.21 370.62L253.21 378.22ZM249.86 374.81L256.47 371.01L256.47 378.61ZM254.76 377.50L261.38 373.70L261.38 381.30ZM259.12 375.58L265.73 371.78L265.73 379.38ZM264.02 379.03L270.63 375.23L270.63 382.83ZM268.38 380.57L274.99 376.77L274.99 384.37ZM273.28 378.26L279.89 374.46L279.89 382.06ZM278.18 381.34L284.79 377.54L284.79 385.14ZM282.54 385.18L289.15 381.38L289.15 388.98ZM287.44 383.26L294.05 379.46L294.05 387.06ZM292.34 389.02L298.95 385.22L298.95 392.82ZM296.70 387.10L303.31 383.30L303.31 390.90ZM301.60 389.79L308.21 385.99L308.21 393.59ZM306.50 390.94L313.11 387.14L313.11 394.74ZM310.86 388.25L317.47 384.45L317.47 392.05ZM315.76 387.10L322.37 383.30L322.37 390.90ZM320.12 382.49L326.73 378.69L326.73 386.29ZM323.93 362.90L330.54 359.10L330.54 366.70ZM328.28 373.27L334.90 369.47L334.90 377.07ZM332.10 382.87L338.71 379.07L338.71 386.67ZM337.00 381.34L343.61 377.54L343.61 385.14ZM341.90 373.27L348.51 369.47L348.51 377.07ZM346.80 378.65L353.41 374.85L353.41 382.45ZM351.16 380.57L357.77 376.77L357.77 384.37ZM353.88 380.57L360.49 376.77L360.49 384.37ZM357.69 387.87L364.31 384.07L364.31 391.67ZM362.05 382.11L368.66 378.31L368.66 385.91ZM366.95 371.73L373.56 367.93L373.56 375.53ZM370.22 377.88L376.83 374.08L376.83 381.68ZM375.12 374.04L381.73 370.24L381.73 377.84ZM378.93 382.87L385.54 379.07L385.54 386.67ZM383.29 381.34L389.90 377.54L389.90 385.14ZM387.10 392.48L393.71 388.68L393.71 396.28ZM392.00 388.64L398.62 384.84L398.62 392.44ZM395.82 395.94L402.43 392.14L402.43 399.74ZM400.72 396.71L407.33 392.91L407.33 400.51ZM405.07 397.47L411.69 393.67L411.69 401.27ZM408.89 399.01L415.50 395.21L415.50 402.81ZM413.79 395.94L420.40 392.14L420.40 399.74ZM417.60 393.25L424.21 389.45L424.21 397.05ZM421.96 388.64L428.57 384.84L428.57 392.44ZM425.77 338.31L432.38 334.51L432.38 342.11ZM430.67 337.54L437.28 333.74L437.28 341.34ZM435.03 341.77L441.64 337.97L441.64 345.57ZM438.29 353.68L444.91 349.88L444.91 357.48ZM442.65 346.76L449.26 342.96L449.26 350.56ZM446.46 365.97L453.08 362.17L453.08 369.77ZM450.82 374.42L457.43 370.62L457.43 378.22ZM455.18 374.42L461.79 370.62L461.79 378.22ZM458.99 373.27L465.60 369.47L465.60 377.07ZM459.53 367.12L466.15 363.32L466.15 370.92ZM463.35 382.11L469.96 378.31L469.96 385.91ZM467.70 367.12L474.31 363.32L474.31 370.92ZM472.06 378.26L478.67 374.46L478.67 382.06ZM476.96 381.34L483.57 377.54L483.57 385.14ZM480.77 386.33L487.39 382.53L487.39 390.13ZM485.13 390.17L491.74 386.37L491.74 393.97ZM488.94 393.25L495.55 389.45L495.55 397.05ZM490.03 380.19L496.64 376.39L496.64 383.99ZM493.84 399.40L500.46 395.60L500.46 403.20ZM497.66 400.16L504.27 396.36L504.27 403.96ZM502.01 398.24L508.62 394.44L508.62 402.04Z" fill="#000000"/><path d="M84.90 423.60 L89.91 133.14 L93.07 102.79 L95.25 116.24 L100.15 136.99 L106.14 151.20 L111.59 197.69 L115.94 238.03 L121.39 259.55 L126.83 272.23 L132.28 293.74 L136.64 306.03 L142.63 316.02 L146.98 327.55 L152.43 332.93 L156.79 342.15 L163.32 341.38 L170.40 358.29 L176.94 357.52 L182.38 367.51 L188.37 372.89 L192.73 377.88 L198.72 383.64 L203.62 385.18 L209.07 385.95 L212.88 387.49 L218.87 389.79 L223.77 392.48 L229.22 395.55 L234.12 397.86 L239.57 399.01 L244.47 394.02 L249.37 398.90 L254.38 401.01 L259.39 399.16 L264.40 395.82 L269.41 397.74 L274.42 397.94 L279.43 401.85 L284.44 400.32 L289.45 397.74 L294.46 397.24 L299.47 403.16 L304.48 399.40 L309.49 394.63 L314.50 398.55 L319.51 397.74 L324.52 396.28 L329.53 403.05 L331.60 403.62 L336.51 399.01 L341.41 401.32 L346.31 397.47 L352.84 347.53 L357.74 360.98 L362.65 367.51 L367.55 377.11 L372.99 385.18 L377.89 379.80 L383.34 374.81 L388.24 376.34 L393.14 371.73 L398.59 374.81 L403.49 382.11 L409.48 383.64 L414.38 382.11 L418.74 386.72 L423.64 391.71 L429.63 394.02 L435.08 389.41 L439.98 398.24 L445.43 401.32 L450.33 402.47 L455.23 402.47 L460.13 401.32 L465.03 404.39 L470.48 405.16 L475.38 406.31 L480.28 407.46 L485.18 407.46 L490.08 410.15 L496.07 412.46 L500.97 398.24 L505.88 397.09 L510.23 400.16 L516.22 402.47 L520.04 402.47 L526.03 406.31 L530.38 406.31 L536.37 407.46 L541.27 408.23 L547.27 406.31 L553.26 409.38 L557.07 410.15 L561.97 414.38 L567.96 410.15 L573.95 412.46 L579.94 412.46 L585.93 414.38 L591.92 414.38 L597.91 413.23" stroke="#ff0000" stroke-width="0.9" fill="none" stroke-linejoin="round"/><path d="M89.31 423.60L82.70 419.80L82.70 427.40ZM94.32 133.14L87.71 129.34L87.71 136.94ZM99.66 116.24L93.04 112.44L93.04 120.04ZM104.56 136.99L97.94 133.19L97.94 140.79ZM110.55 151.20L103.94 147.40L103.94 155.00ZM115.99 197.69L109.38 193.89L109.38 201.49ZM120.35 238.03L113.74 234.23L113.74 241.83ZM125.80 259.55L119.18 255.75L119.18 263.35ZM131.24 272.23L124.63 268.43L124.63 276.03ZM136.69 293.74L130.08 289.94L130.08 297.54ZM141.04 306.03L134.43 302.23L134.43 309.83ZM147.04 316.02L140.42 312.22L140.42 319.82ZM151.39 327.55L144.78 323.75L144.78 331.35ZM156.84 332.93L150.23 329.13L150.23 336.73ZM161.20 342.15L154.58 338.35L154.58 345.95ZM167.73 341.38L161.12 337.58L161.12 345.18ZM174.81 358.29L168.20 354.49L168.20 362.09ZM181.35 357.52L174.73 353.72L174.73 361.32ZM186.79 367.51L180.18 363.71L180.18 371.31ZM192.78 372.89L186.17 369.09L186.17 376.69ZM197.14 377.88L190.53 374.08L190.53 381.68ZM203.13 383.64L196.52 379.84L196.52 387.44ZM208.03 385.18L201.42 381.38L201.42 388.98ZM213.48 385.95L206.86 382.15L206.86 389.75ZM217.29 387.49L210.68 383.69L210.68 391.29ZM223.28 389.79L216.67 385.99L216.67 393.59ZM228.18 392.48L221.57 388.68L221.57 396.28ZM233.63 395.55L227.01 391.75L227.01 399.35ZM238.53 397.86L231.92 394.06L231.92 401.66ZM243.97 399.01L237.36 395.21L237.36 402.81ZM248.88 394.02L242.26 390.22L242.26 397.82ZM253.78 398.90L247.17 395.10L247.17 402.70ZM258.79 401.01L252.18 397.21L252.18 404.81ZM263.80 399.16L257.19 395.36L257.19 402.96ZM268.81 395.82L262.20 392.02L262.20 399.62ZM273.82 397.74L267.21 393.94L267.21 401.54ZM278.83 397.94L272.22 394.14L272.22 401.74ZM283.84 401.85L277.23 398.05L277.23 405.65ZM288.85 400.32L282.24 396.52L282.24 404.12ZM293.86 397.74L287.25 393.94L287.25 401.54ZM298.87 397.24L292.26 393.44L292.26 401.04ZM303.88 403.16L297.27 399.36L297.27 406.96ZM308.89 399.40L302.28 395.60L302.28 403.20ZM313.90 394.63L307.29 390.83L307.29 398.43ZM318.91 398.55L312.30 394.75L312.30 402.35ZM323.92 397.74L317.31 393.94L317.31 401.54ZM328.93 396.28L322.32 392.48L322.32 400.08ZM333.94 403.05L327.33 399.25L327.33 406.85ZM336.01 403.62L329.40 399.82L329.40 407.42ZM340.91 399.01L334.30 395.21L334.30 402.81ZM345.81 401.32L339.20 397.52L339.20 405.12ZM350.72 397.47L344.10 393.67L344.10 401.27ZM357.25 347.53L350.64 343.73L350.64 351.33ZM362.15 360.98L355.54 357.18L355.54 364.78ZM367.05 367.51L360.44 363.71L360.44 371.31ZM371.96 377.11L365.34 373.31L365.34 380.91ZM377.40 385.18L370.79 381.38L370.79 388.98ZM382.30 379.80L375.69 376.00L375.69 383.60ZM387.75 374.81L381.14 371.01L381.14 378.61ZM392.65 376.34L386.04 372.54L386.04 380.14ZM397.55 371.73L390.94 367.93L390.94 375.53ZM403.00 374.81L396.39 371.01L396.39 378.61ZM407.90 382.11L401.29 378.31L401.29 385.91ZM413.89 383.64L407.28 379.84L407.28 387.44ZM418.79 382.11L412.18 378.31L412.18 385.91ZM423.15 386.72L416.54 382.92L416.54 390.52ZM428.05 391.71L421.44 387.91L421.44 395.51ZM434.04 394.02L427.43 390.22L427.43 397.82ZM439.49 389.41L432.87 385.61L432.87 393.21ZM444.39 398.24L437.78 394.44L437.78 402.04ZM449.83 401.32L443.22 397.52L443.22 405.12ZM454.73 402.47L448.12 398.67L448.12 406.27ZM459.64 402.47L453.02 398.67L453.02 406.27ZM464.54 401.32L457.93 397.52L457.93 405.12ZM469.44 404.39L462.83 400.59L462.83 408.19ZM474.88 405.16L468.27 401.36L468.27 408.96ZM479.79 406.31L473.17 402.51L473.17 410.11ZM484.69 407.46L478.08 403.66L478.08 411.26ZM489.59 407.46L482.98 403.66L482.98 411.26ZM494.49 410.15L487.88 406.35L487.88 413.95ZM500.48 412.46L493.87 408.66L493.87 416.26ZM505.38 398.24L498.77 394.44L498.77 402.04ZM510.28 397.09L503.67 393.29L503.67 400.89ZM514.64 400.16L508.03 396.36L508.03 403.96ZM520.63 402.47L514.02 398.67L514.02 406.27ZM524.44 402.47L517.83 398.67L517.83 406.27ZM530.43 406.31L523.82 402.51L523.82 410.11ZM534.79 406.31L528.18 402.51L528.18 410.11ZM540.78 407.46L534.17 403.66L534.17 411.26ZM545.68 408.23L539.07 404.43L539.07 412.03ZM551.67 406.31L545.06 402.51L545.06 410.11ZM557.66 409.38L551.05 405.58L551.05 413.18ZM561.48 410.15L554.86 406.35L554.86 413.95ZM566.38 414.38L559.77 410.58L559.77 418.18ZM572.37 410.15L565.76 406.35L565.76 413.95ZM578.36 412.46L571.75 408.66L571.75 416.26ZM584.35 412.46L577.74 408.66L577.74 416.26ZM590.34 414.38L583.73 410.58L583.73 418.18ZM596.33 414.38L589.72 410.58L589.72 418.18ZM602.32 413.23L595.71 409.43L595.71 417.03Z" fill="#ff0000"/></g>
<path d="M79.5 1.7 H684.0 V423.6 H79.5 Z" stroke="#000" stroke-width="1.8" fill="none"/>
<rect x="197.2" y="28.3" width="272.1" height="179.6" fill="#fff"/>
<clipPath id="ic"><rect x="197.2" y="28.3" width="272.1" height="182.6"/></clipPath><g clip-path="url(#ic)"><path d="M201.60 207.80 L203.61 48.23 L207.40 89.72 L210.52 93.00 L213.64 98.74 L216.76 105.30 L220.33 110.22 L223.90 116.78 L227.47 123.34 L231.70 142.95 L235.94 144.61 L240.18 147.78 L244.42 154.75 L248.65 158.91 L252.89 160.80 L257.13 163.22 L261.36 165.29 L265.60 170.49 L269.84 172.90 L274.07 172.72 L278.31 174.93 L282.55 175.49 L286.79 177.76 L291.02 180.48 L295.26 182.04 L299.50 180.02 L303.73 184.45 L307.97 186.05 L312.21 187.41 L316.44 186.87 L320.68 187.63 L324.92 188.92 L329.16 187.30 L333.39 189.53 L337.63 189.63 L341.87 189.69 L346.10 191.20 L350.34 193.96 L354.58 191.51 L358.81 194.34 L363.05 193.27 L367.29 188.12 L371.53 193.71 L375.76 186.15 L380.00 194.02 L384.24 190.73 L388.47 194.81 L392.71 194.01 L396.95 196.71 L401.18 195.71 L405.42 194.81 L409.66 195.84 L413.90 195.48 L418.13 195.94 L422.37 197.37 L426.61 195.71 L430.84 197.42 L435.08 194.47 L439.32 197.32 L443.56 196.07 L447.79 196.98 L452.03 195.99 L456.27 197.89 L460.50 196.16 L464.74 197.55" stroke="#ff00ff" stroke-width="1" fill="none" stroke-linejoin="round"/><path d="M201.60 202.93L205.80 210.24L197.40 210.24ZM203.61 43.36L207.81 50.66L199.41 50.66ZM207.40 84.85L211.60 92.16L203.20 92.16ZM210.52 88.13L214.72 95.44L206.32 95.44ZM213.64 93.87L217.84 101.18L209.44 101.18ZM216.76 100.43L220.96 107.74L212.56 107.74ZM220.33 105.35L224.53 112.66L216.13 112.66ZM223.90 111.91L228.10 119.22L219.70 119.22ZM227.47 118.47L231.67 125.78L223.27 125.78ZM231.70 138.08L235.90 145.39L227.50 145.39ZM235.94 139.74L240.14 147.05L231.74 147.05ZM240.18 142.90L244.38 150.21L235.98 150.21ZM244.42 149.87L248.62 157.18L240.22 157.18ZM248.65 154.04L252.85 161.35L244.45 161.35ZM252.89 155.93L257.09 163.23L248.69 163.23ZM257.13 158.35L261.33 165.66L252.93 165.66ZM261.36 160.42L265.56 167.73L257.16 167.73ZM265.60 165.62L269.80 172.93L261.40 172.93ZM269.84 168.03L274.04 175.34L265.64 175.34ZM274.07 167.85L278.27 175.16L269.88 175.16ZM278.31 170.06L282.51 177.37L274.11 177.37ZM282.55 170.62L286.75 177.93L278.35 177.93ZM286.79 172.88L290.99 180.19L282.59 180.19ZM291.02 175.61L295.22 182.91L286.82 182.91ZM295.26 177.16L299.46 184.47L291.06 184.47ZM299.50 175.15L303.70 182.45L295.30 182.45ZM303.73 179.57L307.93 186.88L299.53 186.88ZM307.97 181.18L312.17 188.49L303.77 188.49ZM312.21 182.54L316.41 189.85L308.01 189.85ZM316.44 182.00L320.64 189.31L312.25 189.31ZM320.68 182.76L324.88 190.06L316.48 190.06ZM324.92 184.05L329.12 191.36L320.72 191.36ZM329.16 182.43L333.36 189.74L324.96 189.74ZM333.39 184.66L337.59 191.97L329.19 191.97ZM337.63 184.76L341.83 192.06L333.43 192.06ZM341.87 184.82L346.07 192.13L337.67 192.13ZM346.10 186.33L350.30 193.64L341.90 193.64ZM350.34 189.09L354.54 196.39L346.14 196.39ZM354.58 186.64L358.78 193.95L350.38 193.95ZM358.81 189.46L363.01 196.77L354.62 196.77ZM363.05 188.40L367.25 195.71L358.85 195.71ZM367.29 183.25L371.49 190.56L363.09 190.56ZM371.53 188.84L375.73 196.15L367.33 196.15ZM375.76 181.28L379.96 188.59L371.56 188.59ZM380.00 189.15L384.20 196.46L375.80 196.46ZM384.24 185.86L388.44 193.16L380.04 193.16ZM388.47 189.94L392.67 197.25L384.27 197.25ZM392.71 189.14L396.91 196.44L388.51 196.44ZM396.95 191.84L401.15 199.15L392.75 199.15ZM401.18 190.84L405.38 198.15L396.98 198.15ZM405.42 189.94L409.62 197.25L401.22 197.25ZM409.66 190.97L413.86 198.28L405.46 198.28ZM413.90 190.61L418.10 197.92L409.70 197.92ZM418.13 191.07L422.33 198.38L413.93 198.38ZM422.37 192.50L426.57 199.81L418.17 199.81ZM426.61 190.84L430.81 198.15L422.41 198.15ZM430.84 192.55L435.04 199.85L426.64 199.85ZM435.08 189.59L439.28 196.90L430.88 196.90ZM439.32 192.45L443.52 199.76L435.12 199.76ZM443.56 191.20L447.75 198.51L439.36 198.51ZM447.79 192.10L451.99 199.41L443.59 199.41ZM452.03 191.12L456.23 198.43L447.83 198.43ZM456.27 193.02L460.47 200.33L452.07 200.33ZM460.50 191.28L464.70 198.59L456.30 198.59ZM464.74 192.68L468.94 199.99L460.54 199.99Z" fill="#ff00ff"/><path d="M201.60 207.80 L203.38 81.52 L207.84 93.00 L212.30 88.08 L216.32 97.92 L220.56 129.44 L224.79 131.43 L229.03 138.26 L233.27 143.86 L237.50 144.94 L241.74 151.40 L245.98 156.11 L250.21 155.71 L254.45 163.09 L258.69 167.42 L262.93 170.33 L267.16 171.24 L271.40 171.36 L275.64 173.06 L279.87 174.43 L284.11 174.87 L288.35 176.67 L292.58 180.00 L296.82 180.08 L301.06 182.49 L305.30 185.79 L309.53 184.28 L313.77 186.58 L318.01 187.91 L322.24 186.48 L326.48 187.63 L330.72 190.56 L334.95 190.43 L339.19 186.59 L343.43 191.81 L347.66 190.50 L351.90 191.15 L356.14 191.76 L360.38 191.99 L364.61 194.30 L368.85 194.60 L373.09 194.34 L377.32 194.99 L381.56 193.12 L385.80 192.02 L390.03 196.70 L394.27 194.29 L398.51 197.29 L402.75 196.94 L406.98 196.30 L411.22 195.83 L415.46 196.99 L419.69 201.13 L423.93 193.96 L428.17 197.12 L432.40 197.93 L436.64 195.65 L440.88 198.11 L445.12 199.75 L449.35 196.35 L453.59 196.60 L457.83 198.98 L462.06 196.04 L466.30 196.98" stroke="#ff8000" stroke-width="1" fill="none" stroke-linejoin="round"/><path d="M201.60 212.67L205.80 205.36L197.40 205.36ZM203.38 86.39L207.58 79.08L199.18 79.08ZM207.84 97.87L212.04 90.56L203.64 90.56ZM212.30 92.95L216.50 85.64L208.10 85.64ZM216.32 102.79L220.52 95.48L212.12 95.48ZM220.56 134.31L224.75 127.00L216.36 127.00ZM224.79 136.30L228.99 128.99L220.59 128.99ZM229.03 143.14L233.23 135.83L224.83 135.83ZM233.27 148.73L237.47 141.42L229.07 141.42ZM237.50 149.81L241.70 142.50L233.30 142.50ZM241.74 156.27L245.94 148.96L237.54 148.96ZM245.98 160.98L250.18 153.67L241.78 153.67ZM250.21 160.59L254.41 153.28L246.01 153.28ZM254.45 167.97L258.65 160.66L250.25 160.66ZM258.69 172.30L262.89 164.99L254.49 164.99ZM262.93 175.20L267.12 167.89L258.73 167.89ZM267.16 176.12L271.36 168.81L262.96 168.81ZM271.40 176.23L275.60 168.92L267.20 168.92ZM275.64 177.94L279.84 170.63L271.44 170.63ZM279.87 179.30L284.07 171.99L275.67 171.99ZM284.11 179.74L288.31 172.43L279.91 172.43ZM288.35 181.54L292.55 174.24L284.15 174.24ZM292.58 184.87L296.78 177.57L288.38 177.57ZM296.82 184.96L301.02 177.65L292.62 177.65ZM301.06 187.37L305.26 180.06L296.86 180.06ZM305.30 190.66L309.50 183.36L301.10 183.36ZM309.53 189.15L313.73 181.85L305.33 181.85ZM313.77 191.45L317.97 184.14L309.57 184.14ZM318.01 192.78L322.21 185.47L313.81 185.47ZM322.24 191.35L326.44 184.04L318.04 184.04ZM326.48 192.50L330.68 185.19L322.28 185.19ZM330.72 195.44L334.92 188.13L326.52 188.13ZM334.95 195.30L339.15 188.00L330.75 188.00ZM339.19 191.47L343.39 184.16L334.99 184.16ZM343.43 196.68L347.63 189.37L339.23 189.37ZM347.66 195.37L351.86 188.06L343.46 188.06ZM351.90 196.03L356.10 188.72L347.70 188.72ZM356.14 196.63L360.34 189.32L351.94 189.32ZM360.38 196.86L364.58 189.55L356.18 189.55ZM364.61 199.17L368.81 191.87L360.41 191.87ZM368.85 199.47L373.05 192.16L364.65 192.16ZM373.09 199.21L377.29 191.90L368.89 191.90ZM377.32 199.86L381.52 192.56L373.12 192.56ZM381.56 197.99L385.76 190.69L377.36 190.69ZM385.80 196.90L390.00 189.59L381.60 189.59ZM390.03 201.57L394.23 194.26L385.83 194.26ZM394.27 199.16L398.47 191.85L390.07 191.85ZM398.51 202.16L402.71 194.85L394.31 194.85ZM402.75 201.82L406.95 194.51L398.55 194.51ZM406.98 201.18L411.18 193.87L402.78 193.87ZM411.22 200.70L415.42 193.39L407.02 193.39ZM415.46 201.86L419.66 194.56L411.26 194.56ZM419.69 206.00L423.89 198.69L415.49 198.69ZM423.93 198.83L428.13 191.52L419.73 191.52ZM428.17 202.00L432.37 194.69L423.97 194.69ZM432.40 202.80L436.60 195.49L428.20 195.49ZM436.64 200.52L440.84 193.21L432.44 193.21ZM440.88 202.98L445.08 195.67L436.68 195.67ZM445.12 204.62L449.32 197.31L440.92 197.31ZM449.35 201.22L453.55 193.92L445.15 193.92ZM453.59 201.47L457.79 194.16L449.39 194.16ZM457.83 203.85L462.03 196.54L453.63 196.54ZM462.06 200.91L466.26 193.61L457.86 193.61ZM466.30 201.85L470.50 194.54L462.10 194.54Z" fill="#ff8000"/><path d="M201.60 207.80 L203.83 74.47 L207.22 99.56 L210.07 111.04 L212.75 103.66 L217.21 114.65 L220.33 126.78 L223.28 118.75 L227.29 134.56 L231.30 136.41 L235.32 145.53 L239.33 151.71 L243.35 151.52 L247.36 154.55 L251.37 158.19 L255.39 160.96 L259.40 164.73 L263.42 168.05 L267.43 170.60 L271.44 171.82 L275.46 174.02 L279.47 173.66 L283.49 175.79 L287.50 180.40 L291.51 178.56 L295.53 181.04 L299.54 180.31 L303.56 180.76 L307.57 183.31 L311.58 188.09 L315.60 186.48 L319.61 189.33 L323.63 192.06 L327.64 184.35 L331.65 189.07 L335.67 186.32 L339.68 192.76 L343.70 190.28 L347.71 192.56 L351.72 192.07 L355.74 192.91 L359.75 190.83 L363.77 192.79 L367.78 192.02 L371.79 191.83 L375.81 196.01 L379.82 191.10 L383.84 194.07 L387.85 196.63 L391.86 195.19 L395.88 192.84 L399.89 192.83 L403.91 195.81 L407.92 194.66 L411.93 194.60 L415.95 193.42 L419.96 195.52 L423.98 193.79 L427.99 197.04 L432.00 196.88 L436.02 194.70 L440.03 194.71 L444.05 196.11 L448.06 195.14 L452.07 195.89 L456.09 195.07 L460.10 194.50 L464.12 195.68" stroke="#808000" stroke-width="1" fill="none" stroke-linejoin="round"/><path d="M201.60 203.30L206.10 207.80L201.60 212.30L197.10 207.80ZM203.83 69.97L208.33 74.47L203.83 78.97L199.33 74.47ZM207.22 95.06L211.72 99.56L207.22 104.06L202.72 99.56ZM210.07 106.54L214.57 111.04L210.07 115.54L205.57 111.04ZM212.75 99.16L217.25 103.66L212.75 108.16L208.25 103.66ZM217.21 110.15L221.71 114.65L217.21 119.15L212.71 114.65ZM220.33 122.28L224.83 126.78L220.33 131.28L215.83 126.78ZM223.28 114.25L227.78 118.75L223.28 123.25L218.78 118.75ZM227.29 130.06L231.79 134.56L227.29 139.06L222.79 134.56ZM231.30 131.91L235.80 136.41L231.30 140.91L226.80 136.41ZM235.32 141.03L239.82 145.53L235.32 150.03L230.82 145.53ZM239.33 147.21L243.83 151.71L239.33 156.21L234.83 151.71ZM243.35 147.02L247.85 151.52L243.35 156.02L238.85 151.52ZM247.36 150.05L251.86 154.55L247.36 159.05L242.86 154.55ZM251.37 153.69L255.87 158.19L251.37 162.69L246.87 158.19ZM255.39 156.46L259.89 160.96L255.39 165.46L250.89 160.96ZM259.40 160.23L263.90 164.73L259.40 169.23L254.90 164.73ZM263.42 163.55L267.92 168.05L263.42 172.55L258.92 168.05ZM267.43 166.10L271.93 170.60L267.43 175.10L262.93 170.60ZM271.44 167.32L275.94 171.82L271.44 176.32L266.94 171.82ZM275.46 169.52L279.96 174.02L275.46 178.52L270.96 174.02ZM279.47 169.16L283.97 173.66L279.47 178.16L274.97 173.66ZM283.49 171.29L287.99 175.79L283.49 180.29L278.99 175.79ZM287.50 175.90L292.00 180.40L287.50 184.90L283.00 180.40ZM291.51 174.06L296.01 178.56L291.51 183.06L287.01 178.56ZM295.53 176.54L300.03 181.04L295.53 185.54L291.03 181.04ZM299.54 175.81L304.04 180.31L299.54 184.81L295.04 180.31ZM303.56 176.26L308.06 180.76L303.56 185.26L299.06 180.76ZM307.57 178.81L312.07 183.31L307.57 187.81L303.07 183.31ZM311.58 183.59L316.08 188.09L311.58 192.59L307.08 188.09ZM315.60 181.98L320.10 186.48L315.60 190.98L311.10 186.48ZM319.61 184.83L324.11 189.33L319.61 193.83L315.11 189.33ZM323.63 187.56L328.13 192.06L323.63 196.56L319.13 192.06ZM327.64 179.85L332.14 184.35L327.64 188.85L323.14 184.35ZM331.65 184.57L336.15 189.07L331.65 193.57L327.15 189.07ZM335.67 181.82L340.17 186.32L335.67 190.82L331.17 186.32ZM339.68 188.26L344.18 192.76L339.68 197.26L335.18 192.76ZM343.70 185.78L348.20 190.28L343.70 194.78L339.20 190.28ZM347.71 188.06L352.21 192.56L347.71 197.06L343.21 192.56ZM351.72 187.57L356.22 192.07L351.72 196.57L347.22 192.07ZM355.74 188.41L360.24 192.91L355.74 197.41L351.24 192.91ZM359.75 186.33L364.25 190.83L359.75 195.33L355.25 190.83ZM363.77 188.29L368.27 192.79L363.77 197.29L359.27 192.79ZM367.78 187.52L372.28 192.02L367.78 196.52L363.28 192.02ZM371.79 187.33L376.29 191.83L371.79 196.33L367.29 191.83ZM375.81 191.51L380.31 196.01L375.81 200.51L371.31 196.01ZM379.82 186.60L384.32 191.10L379.82 195.60L375.32 191.10ZM383.84 189.57L388.34 194.07L383.84 198.57L379.34 194.07ZM387.85 192.13L392.35 196.63L387.85 201.13L383.35 196.63ZM391.86 190.69L396.36 195.19L391.86 199.69L387.36 195.19ZM395.88 188.34L400.38 192.84L395.88 197.34L391.38 192.84ZM399.89 188.33L404.39 192.83L399.89 197.33L395.39 192.83ZM403.91 191.31L408.41 195.81L403.91 200.31L399.41 195.81ZM407.92 190.16L412.42 194.66L407.92 199.16L403.42 194.66ZM411.93 190.10L416.43 194.60L411.93 199.10L407.43 194.60ZM415.95 188.92L420.45 193.42L415.95 197.92L411.45 193.42ZM419.96 191.02L424.46 195.52L419.96 200.02L415.46 195.52ZM423.98 189.29L428.48 193.79L423.98 198.29L419.48 193.79ZM427.99 192.54L432.49 197.04L427.99 201.54L423.49 197.04ZM432.00 192.38L436.50 196.88L432.00 201.38L427.50 196.88ZM436.02 190.20L440.52 194.70L436.02 199.20L431.52 194.70ZM440.03 190.21L444.53 194.71L440.03 199.21L435.53 194.71ZM444.05 191.61L448.55 196.11L444.05 200.61L439.55 196.11ZM448.06 190.64L452.56 195.14L448.06 199.64L443.56 195.14ZM452.07 191.39L456.57 195.89L452.07 200.39L447.57 195.89ZM456.09 190.57L460.59 195.07L456.09 199.57L451.59 195.07ZM460.10 190.00L464.60 194.50L460.10 199.00L455.60 194.50ZM464.12 191.18L468.62 195.68L464.12 200.18L459.62 195.68Z" fill="#808000"/></g>
<path d="M201.60 207.9 v4 M201.60 28.3 v4 M246.20 207.9 v2.5 M246.20 28.3 v2.5 M290.80 207.9 v4 M290.80 28.3 v4 M335.40 207.9 v2.5 M335.40 28.3 v2.5 M380.00 207.9 v4 M380.00 28.3 v4 M424.60 207.9 v2.5 M424.60 28.3 v2.5 M469.20 207.9 v4 M469.20 28.3 v4 M197.2 207.80 h-4 M469.3 207.80 h-4 M197.2 191.40 h-2.5 M469.3 191.40 h-2.5 M197.2 175.00 h-4 M469.3 175.00 h-4 M197.2 158.60 h-2.5 M469.3 158.60 h-2.5 M197.2 142.20 h-4 M469.3 142.20 h-4 M197.2 125.80 h-2.5 M469.3 125.80 h-2.5 M197.2 109.40 h-4 M469.3 109.40 h-4 M197.2 93.00 h-2.5 M469.3 93.00 h-2.5 M197.2 76.60 h-4 M469.3 76.60 h-4 M197.2 60.20 h-2.5 M469.3 60.20 h-2.5 M197.2 43.80 h-4 M469.3 43.80 h-4" stroke="#222" stroke-width="1.3" fill="none"/>
<path d="M197.2 28.3 H469.3 V207.9 H197.2 Z" stroke="#222" stroke-width="1.7" fill="none"/>
<text x="191.40" y="214.20" font-size="20.5" font-family="&quot;Liberation Sans&quot;, sans-serif" text-anchor="end">0.0</text>
<text x="191.40" y="181.40" font-size="20.5" font-family="&quot;Liberation Sans&quot;, sans-serif" text-anchor="end">0.2</text>
<text x="191.40" y="148.60" font-size="20.5" font-family="&quot;Liberation Sans&quot;, sans-serif" text-anchor="end">0.4</text>
<text x="191.40" y="115.80" font-size="20.5" font-family="&quot;Liberation Sans&quot;, sans-serif" text-anchor="end">0.6</text>
<text x="191.40" y="83.00" font-size="20.5" font-family="&quot;Liberation Sans&quot;, sans-serif" text-anchor="end">0.8</text>
<text x="191.40" y="50.20" font-size="20.5" font-family="&quot;Liberation Sans&quot;, sans-serif" text-anchor="end">1.0</text>
<text x="201.60" y="229.20" font-size="21" font-family="&quot;Liberation Sans&quot;, sans-serif" text-anchor="middle">0</text>
<text x="290.80" y="229.20" font-size="21" font-family="&quot;Liberation Sans&quot;, sans-serif" text-anchor="middle">2</text>
<text x="380.00" y="229.20" font-size="21" font-family="&quot;Liberation Sans&quot;, sans-serif" text-anchor="middle">4</text>
<text x="469.20" y="229.20" font-size="21" font-family="&quot;Liberation Sans&quot;, sans-serif" text-anchor="middle">6</text>
<text x="245.20" y="257.50" font-size="24" font-family="&quot;Liberation Sans&quot;, sans-serif" >t/(A</text>
<text x="282.60" y="264.50" font-size="17" font-family="&quot;Liberation Sans&quot;, sans-serif" >m</text>
<text x="297.90" y="248.20" font-size="15.8" font-family="&quot;Liberation Sans&quot;, sans-serif" >1-</text>
<text x="311.7" y="248.2" font-size="16.3" font-family="&quot;Liberation Serif&quot;, serif">φ</text>
<text x="322.80" y="257.50" font-size="24" font-family="&quot;Liberation Sans&quot;, sans-serif" >) (s/(V</text>
<text x="388.40" y="248.20" font-size="15.8" font-family="&quot;Liberation Sans&quot;, sans-serif" >1-</text>
<text x="402.2" y="248.2" font-size="16.3" font-family="&quot;Liberation Serif&quot;, serif">φ</text>
<text x="414.00" y="257.50" font-size="24" font-family="&quot;Liberation Sans&quot;, sans-serif" >)</text>
<text transform="translate(149.1,145.4) rotate(-90)" font-size="24" font-family="&quot;Liberation Sans&quot;, sans-serif">U/A</text>
<text transform="translate(155.8,105.3) rotate(-90)" font-size="17" font-family="&quot;Liberation Sans&quot;, sans-serif">m</text>
<rect x="479.7" y="27.8" width="202.90000000000003" height="201.7" fill="#fff" stroke="#000" stroke-width="1.6"/>
<path d="M480.6 44.70H498.3M509.3 44.70H527.8" stroke="#0000ff" stroke-width="1.1"/>
<path d="M499.80 40.70h8.00v8.00h-8.00Z" fill="#0000ff"/>
<text x="533.50" y="52.15" font-size="21.7" font-family="&quot;Liberation Sans&quot;, sans-serif" >0.08 - 0.12</text>
<text x="642.1" y="52.15" font-size="22" font-family="&quot;Liberation Serif&quot;, serif">μ</text>
<text x="655.20" y="52.15" font-size="21.7" font-family="&quot;Liberation Sans&quot;, sans-serif" textLength="24" lengthAdjust="spacingAndGlyphs">Vs</text>
<path d="M480.6 73.70H498.3M509.3 73.70H527.8" stroke="#00dd00" stroke-width="1.1"/>
<path d="M499.40 73.70a4.40 4.40 0 1 0 8.80 0a4.40 4.40 0 1 0 -8.80 0Z" fill="#00dd00"/>
<text x="533.50" y="81.15" font-size="21.7" font-family="&quot;Liberation Sans&quot;, sans-serif" >0.15 - 0.25</text>
<text x="642.1" y="81.15" font-size="22" font-family="&quot;Liberation Serif&quot;, serif">μ</text>
<text x="655.20" y="81.15" font-size="21.7" font-family="&quot;Liberation Sans&quot;, sans-serif" textLength="24" lengthAdjust="spacingAndGlyphs">Vs</text>
<path d="M480.6 102.70H498.3M509.3 102.70H527.8" stroke="#ff00ff" stroke-width="1.1"/>
<path d="M503.80 96.83L509.20 105.63L498.40 105.63Z" fill="#ff00ff"/>
<text x="533.50" y="110.15" font-size="21.7" font-family="&quot;Liberation Sans&quot;, sans-serif" >0.35 - 0.45</text>
<text x="642.1" y="110.15" font-size="22" font-family="&quot;Liberation Serif&quot;, serif">μ</text>
<text x="655.20" y="110.15" font-size="21.7" font-family="&quot;Liberation Sans&quot;, sans-serif" textLength="24" lengthAdjust="spacingAndGlyphs">Vs</text>
<path d="M480.6 129.40H498.3M509.3 129.40H527.8" stroke="#ff8000" stroke-width="1.1"/>
<path d="M503.80 135.13L509.10 126.53L498.50 126.53Z" fill="#ff8000"/>
<text x="533.50" y="136.85" font-size="21.7" font-family="&quot;Liberation Sans&quot;, sans-serif" >0.55 - 0.65</text>
<text x="642.1" y="136.85" font-size="22" font-family="&quot;Liberation Serif&quot;, serif">μ</text>
<text x="655.20" y="136.85" font-size="21.7" font-family="&quot;Liberation Sans&quot;, sans-serif" textLength="24" lengthAdjust="spacingAndGlyphs">Vs</text>
<path d="M480.6 158.20H498.3M509.3 158.20H527.8" stroke="#808000" stroke-width="1.1"/>
<path d="M503.80 152.95L509.05 158.20L503.80 163.45L498.55 158.20Z" fill="#808000"/>
<text x="533.50" y="165.65" font-size="21.7" font-family="&quot;Liberation Sans&quot;, sans-serif" >0.75 - 0.85</text>
<text x="642.1" y="165.65" font-size="22" font-family="&quot;Liberation Serif&quot;, serif">μ</text>
<text x="655.20" y="165.65" font-size="21.7" font-family="&quot;Liberation Sans&quot;, sans-serif" textLength="24" lengthAdjust="spacingAndGlyphs">Vs</text>
<path d="M480.6 187.70H498.3M509.3 187.70H527.8" stroke="#000000" stroke-width="1.1"/>
<path d="M497.93 187.70L506.73 182.40L506.73 193.00Z" fill="#000000"/>
<text x="533.50" y="195.15" font-size="21.7" font-family="&quot;Liberation Sans&quot;, sans-serif" >0.85 - 1.15</text>
<text x="642.1" y="195.15" font-size="22" font-family="&quot;Liberation Serif&quot;, serif">μ</text>
<text x="655.20" y="195.15" font-size="21.7" font-family="&quot;Liberation Sans&quot;, sans-serif" textLength="24" lengthAdjust="spacingAndGlyphs">Vs</text>
<path d="M480.6 217.00H498.3M509.3 217.00H527.8" stroke="#ff0000" stroke-width="1.1"/>
<path d="M509.67 217.00L500.87 211.70L500.87 222.30Z" fill="#ff0000"/>
<text x="533.50" y="224.45" font-size="21.7" font-family="&quot;Liberation Sans&quot;, sans-serif" >2.50 - 5.50</text>
<text x="642.1" y="224.45" font-size="22" font-family="&quot;Liberation Serif&quot;, serif">μ</text>
<text x="655.20" y="224.45" font-size="21.7" font-family="&quot;Liberation Sans&quot;, sans-serif" textLength="24" lengthAdjust="spacingAndGlyphs">Vs</text>
</svg>
</body></html>
